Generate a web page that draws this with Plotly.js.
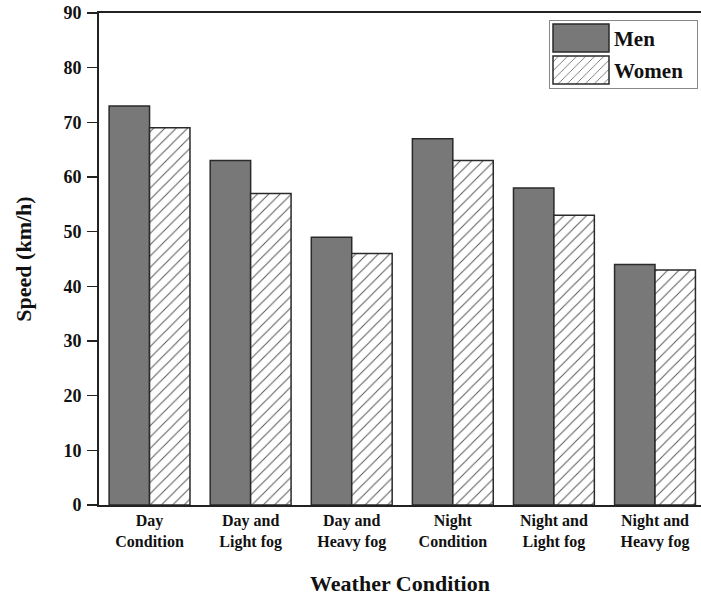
<!DOCTYPE html>
<html>
<head>
<meta charset="utf-8">
<script src="https://cdn.plot.ly/plotly-3.0.1.min.js"></script>
<style>
html,body{margin:0;padding:0;background:#fff;}
#chart{width:701px;height:598px;}
</style>
</head>
<body>
<div id="chart"></div>
<script>
const categories = ["Day<br>Condition", "Day and<br>Light fog", "Day and<br>Heavy fog", "Night<br>Condition", "Night and<br>Light fog", "Night and<br>Heavy fog"];
const menSpeed = [73, 63, 49, 67, 58, 44];
const womenSpeed = [69, 57, 46, 63, 53, 43];
const yTicks = [0, 10, 20, 30, 40, 50, 60, 70, 80, 90];

const fontFam = "Liberation Serif, Times New Roman, serif";

const traces = [
  {
    type: "bar", name: "Men", x: categories, y: menSpeed,
    marker: {color: "#787878", line: {color: "#2a2a2a", width: 1.5}}
  },
  {
    type: "bar", name: "Women", x: categories, y: womenSpeed,
    marker: {
      color: "#ffffff",
      line: {color: "#2a2a2a", width: 1.5},
      pattern: {shape: "/", fgcolor: "#555555", bgcolor: "#ffffff", size: 8, solidity: 0.12}
    }
  }
];

const layout = {
  width: 701, height: 598,
  margin: {l: 99, r: 0, t: 13, b: 93},
  paper_bgcolor: "#ffffff", plot_bgcolor: "#ffffff",
  barmode: "group", bargap: 0.2, bargroupgap: 0,
  font: {family: fontFam, color: "#111"},
  xaxis: {
    type: "category",
    range: [-0.5, 5.455],
    automargin: false,
    showline: true, linecolor: "#222", linewidth: 2, mirror: true,
    ticks: "", showgrid: false, zeroline: false,
    tickfont: {family: fontFam, size: 16, weight: "bold", color: "#111"},
    title: {text: "Weather Condition", font: {family: fontFam, size: 22, weight: "bold", color: "#111"}, standoff: 26}
  },
  yaxis: {
    range: [0, 90],
    tickvals: yTicks,
    automargin: false,
    showline: true, linecolor: "#222", linewidth: 2, mirror: false,
    ticks: "outside", ticklen: 10, tickwidth: 1.5, tickcolor: "#222",
    ticklabelstandoff: 2,
    showgrid: false, zeroline: false,
    tickfont: {family: fontFam, size: 18, weight: "bold", color: "#111"},
    title: {text: "Speed (km/h)", font: {family: fontFam, size: 22, weight: "bold", color: "#111"}, standoff: 26}
  },
  legend: {
    x: 0.99, y: 0.985, xanchor: "right", yanchor: "top",
    bgcolor: "#ffffff", bordercolor: "#888", borderwidth: 1,
    font: {family: fontFam, size: 21, weight: "bold", color: "#111"},
    itemwidth: 60
  },
  showlegend: true
};

Plotly.newPlot("chart", traces, layout, {displayModeBar: false, staticPlot: true}).then(function (gd) {
  // Restyle the legend: large swatches like the original figure
  const leg = gd.querySelector("g.legend");
  if (!leg) return;
  leg.setAttribute("transform", "translate(549,20)");
  const bg = leg.querySelector("rect.bg");
  if (bg) {
    bg.setAttribute("x", 0); bg.setAttribute("y", 0);
    bg.setAttribute("width", 148); bg.setAttribute("height", 68);
  }
  const sb = leg.querySelector("g.scrollbox");
  if (sb) { sb.removeAttribute("clip-path"); sb.setAttribute("transform", "translate(0,0)"); }
  leg.querySelectorAll("rect.scrollbar").forEach(function (r) { r.style.display = "none"; });
  const items = leg.querySelectorAll("g.traces");
  items.forEach(function (g, i) {
    g.setAttribute("transform", "translate(0," + (18 + 32 * i) + ")");
    const p = g.querySelector("g.legendpoints path");
    if (p) {
      p.setAttribute("transform", "translate(32,0)");
      p.setAttribute("d", "M-28,-14H28V14H-28Z");
      p.style.strokeWidth = "1.5px";
      p.style.stroke = "#2a2a2a";
    }
    const t = g.querySelector("text.legendtext");
    if (t) {
      t.setAttribute("x", 65);
      t.querySelectorAll("tspan").forEach(function (s) { if (s.hasAttribute("x")) s.setAttribute("x", 65); });
    }
  });
});
</script>
</body>
</html>
